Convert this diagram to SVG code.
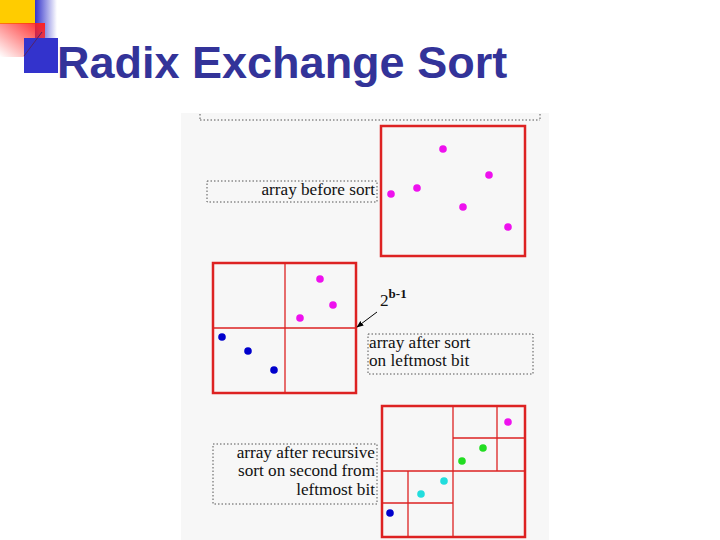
<svg xmlns="http://www.w3.org/2000/svg" width="720" height="540" viewBox="0 0 720 540">
<defs>
<linearGradient id="bg" x1="0" x2="1" y1="0" y2="0"><stop offset="0" stop-color="#3333cc"/><stop offset="1" stop-color="#3333cc" stop-opacity="0"/></linearGradient>
<linearGradient id="rg" x1="1" x2="0" y1="0" y2="1"><stop offset="0" stop-color="#ff2020"/><stop offset="1" stop-color="#ff2020" stop-opacity="0"/></linearGradient>
<marker id="ah" viewBox="0 0 10 10" refX="9" refY="5" markerWidth="7" markerHeight="7" orient="auto"><path d="M0,1 L10,5 L0,9 z" fill="#000"/></marker>
<style>
.box{fill:none;stroke:#dd2222;stroke-width:2.5}
.ln{stroke:#dd2222;stroke-width:1.3}
.lab{fill:none;stroke:#555;stroke-width:1;stroke-dasharray:1.5,2}
.t{font-family:"Liberation Serif",serif;font-size:17.2px;fill:#111}
.m{fill:#ee11ee}.b{fill:#0000cc}.g{fill:#22dd22}.c{fill:#22dddd}
</style>
</defs>
<rect width="720" height="540" fill="#fff"/>
<g id="logo">
<rect x="0" y="0" width="35" height="24" fill="#ffcc00"/>
<rect x="35" y="0" width="22" height="52" fill="url(#bg)"/>
<rect x="0" y="23" width="45" height="34" fill="url(#rg)"/>
<rect x="24" y="38" width="34" height="35" fill="#3333cc"/>
<line x1="24" y1="56" x2="42" y2="32" stroke="#552266" stroke-width="1"/>
</g>
<text x="57" y="78" font-family="Liberation Sans,sans-serif" font-weight="bold" font-size="45" fill="#333399">Radix Exchange Sort</text>
<rect x="181" y="113" width="368" height="427" fill="#f7f7f7"/>
<line x1="200" y1="120" x2="540" y2="120" class="lab"/>
<line x1="200" y1="114" x2="200" y2="120" class="lab"/>
<line x1="540" y1="114" x2="540" y2="120" class="lab"/>
<g id="before">
<rect x="381" y="126" width="144" height="130" class="box"/>
<circle cx="443" cy="149" r="3.8" class="m"/><circle cx="489" cy="175" r="3.8" class="m"/><circle cx="417" cy="188" r="3.8" class="m"/><circle cx="391" cy="194" r="3.8" class="m"/><circle cx="463" cy="207" r="3.8" class="m"/><circle cx="508" cy="227" r="3.8" class="m"/>
</g>
<g id="label1"><rect x="207" y="181" width="170" height="21" class="lab"/><text x="375" y="195" text-anchor="end" class="t">array before sort</text></g>
<g id="after1">
<rect x="213" y="263" width="143" height="130" class="box"/>
<line x1="285" y1="263" x2="285" y2="393" class="ln"/><line x1="213" y1="328" x2="356" y2="328" class="ln"/>
<circle cx="320" cy="279" r="3.8" class="m"/><circle cx="333" cy="305" r="3.8" class="m"/><circle cx="300" cy="318" r="3.8" class="m"/>
<circle cx="222" cy="337" r="3.8" class="b"/><circle cx="248" cy="351" r="3.8" class="b"/><circle cx="274" cy="370" r="3.8" class="b"/>
</g>
<g id="mark"><text x="380" y="306" class="t" font-size="19">2<tspan dy="-8" font-size="13" font-weight="bold">b-1</tspan></text></g>
<g id="connectors"><line x1="377" y1="312" x2="357" y2="327" stroke="#000" stroke-width="1" marker-end="url(#ah)"/></g>
<g id="label2"><rect x="368" y="334" width="165" height="40" class="lab"/><text x="369" y="348" class="t">array after sort</text><text x="369" y="366" class="t">on leftmost bit</text></g>
<g id="after2">
<rect x="382" y="406" width="143" height="131" class="box"/>
<line x1="453" y1="406" x2="453" y2="537" class="ln" stroke-width="2"/><line x1="382" y1="471" x2="525" y2="471" class="ln" stroke-width="2"/>
<line x1="453" y1="438" x2="525" y2="438" class="ln"/><line x1="497" y1="406" x2="497" y2="471" class="ln"/>
<line x1="408" y1="471" x2="408" y2="537" class="ln"/><line x1="382" y1="503" x2="453" y2="503" class="ln"/>
<circle cx="508" cy="422" r="3.8" class="m"/><circle cx="483" cy="448" r="3.8" class="g"/><circle cx="462" cy="461" r="3.8" class="g"/>
<circle cx="444" cy="481" r="3.8" class="c"/><circle cx="421" cy="494" r="3.8" class="c"/><circle cx="390" cy="513" r="3.8" class="b"/>
</g>
<g id="label3"><rect x="213" y="444" width="164" height="60" class="lab"/>
<text x="375" y="458" text-anchor="end" class="t">array after recursive</text>
<text x="375" y="476" text-anchor="end" class="t">sort on second from</text>
<text x="375" y="495" text-anchor="end" class="t">leftmost bit</text></g>
</svg>
